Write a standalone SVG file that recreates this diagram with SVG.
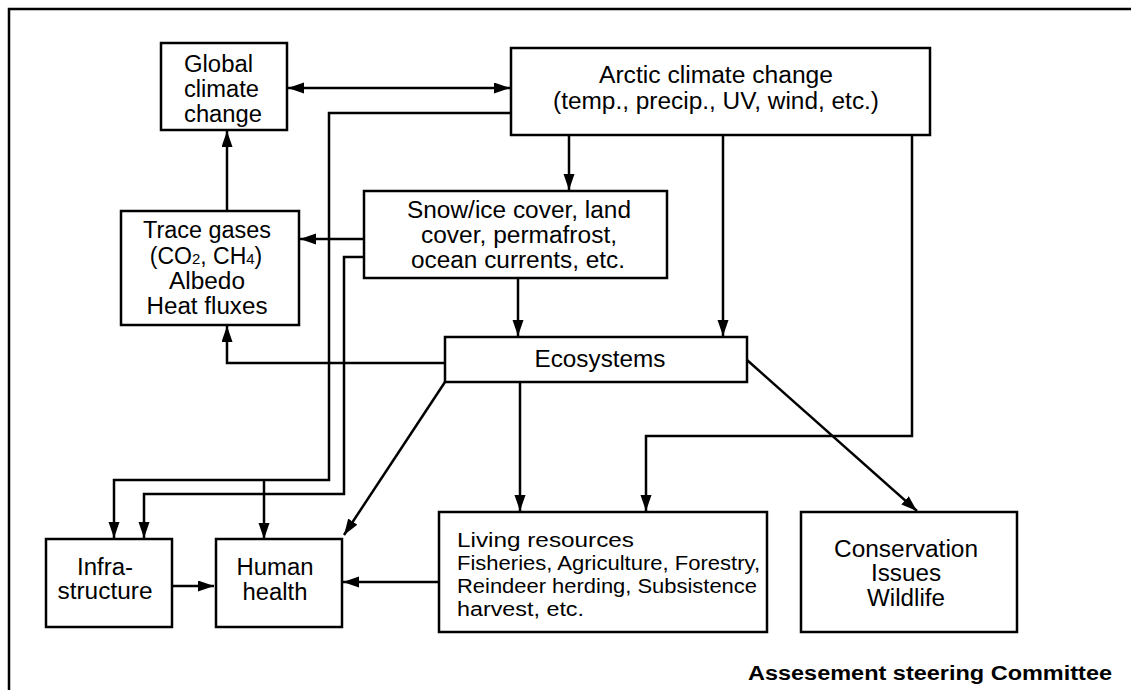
<svg xmlns="http://www.w3.org/2000/svg" width="1131" height="690" viewBox="0 0 1131 690">
<style>
.box{fill:#fff;stroke:#000;stroke-width:2.5}
.t{font-family:"Liberation Sans",Arial,sans-serif;font-size:23px;fill:#000}
.s{font-size:20px}
.c{text-anchor:middle}
.ln{fill:none;stroke:#000;stroke-width:2.5}
.b{font-family:"Liberation Sans",Arial,sans-serif;font-size:20px;font-weight:bold;fill:#000}
</style>
<defs>
<marker id="ah" markerUnits="userSpaceOnUse" markerWidth="17" markerHeight="12" refX="16" refY="5.5" orient="auto-start-reverse">
<path d="M0,0 L16,5.5 L0,11 z" fill="#000"/>
</marker>
</defs>
<rect width="1131" height="690" fill="#fff"/>
<path d="M9,690 V9 H1131" fill="none" stroke="#000" stroke-width="2.5"/>

<g id="connectors">
<path class="ln" d="M288,88 H510" marker-start="url(#ah)" marker-end="url(#ah)"/>
<path class="ln" d="M511,113 H329 V480 H114 V538" marker-end="url(#ah)"/>
<path class="ln" d="M264,480 V539" marker-end="url(#ah)"/>
<path class="ln" d="M364,257 H344 V494 H144 V538" marker-end="url(#ah)"/>
<path class="ln" d="M364,239 H300" marker-end="url(#ah)"/>
<path class="ln" d="M227,211 V131" marker-end="url(#ah)"/>
<path class="ln" d="M569,135 V190" marker-end="url(#ah)"/>
<path class="ln" d="M723,135 V336" marker-end="url(#ah)"/>
<path class="ln" d="M912,135 V436 H646 V511" marker-end="url(#ah)"/>
<path class="ln" d="M518,278 V336" marker-end="url(#ah)"/>
<path class="ln" d="M445,363 H227 V326" marker-end="url(#ah)"/>
<path class="ln" d="M445,382 L344,535" marker-end="url(#ah)"/>
<path class="ln" d="M520,382 V511" marker-end="url(#ah)"/>
<path class="ln" d="M747,360 L917,511" marker-end="url(#ah)"/>
<path class="ln" d="M172,586 H214" marker-end="url(#ah)"/>
<path class="ln" d="M439,582 H343" marker-end="url(#ah)"/>
</g>

<g id="global">
<rect class="box" x="161" y="43" width="126" height="87"/>
<text class="t" x="184" y="72" textLength="69" lengthAdjust="spacingAndGlyphs">Global</text>
<text class="t" x="184" y="97" textLength="75" lengthAdjust="spacingAndGlyphs">climate</text>
<text class="t" x="184" y="122" textLength="78" lengthAdjust="spacingAndGlyphs">change</text>
</g>

<g id="arctic">
<rect class="box" x="511" y="48" width="419" height="87"/>
<text class="t c" x="716" y="83" textLength="234" lengthAdjust="spacingAndGlyphs">Arctic climate change</text>
<text class="t c" x="716" y="109" textLength="326" lengthAdjust="spacingAndGlyphs">(temp., precip., UV, wind, etc.)</text>
</g>

<g id="snow">
<rect class="box" x="364" y="191" width="303" height="87"/>
<text class="t c" x="519" y="218" textLength="224" lengthAdjust="spacingAndGlyphs">Snow/ice cover, land</text>
<text class="t c" x="519" y="243" textLength="196" lengthAdjust="spacingAndGlyphs">cover, permafrost,</text>
<text class="t c" x="518" y="268" textLength="214" lengthAdjust="spacingAndGlyphs">ocean currents, etc.</text>
</g>

<g id="trace">
<rect class="box" x="121" y="211" width="178" height="114"/>
<text class="t c" x="207" y="238" textLength="128" lengthAdjust="spacingAndGlyphs">Trace gases</text>
<text class="t c" x="206" y="264">(CO<tspan font-size="15">2</tspan>, CH<tspan font-size="15">4</tspan>)</text>
<text class="t c" x="207" y="289" textLength="76" lengthAdjust="spacingAndGlyphs">Albedo</text>
<text class="t c" x="207" y="314" textLength="121" lengthAdjust="spacingAndGlyphs">Heat fluxes</text>
</g>

<g id="ecosystems">
<rect class="box" x="445" y="337" width="302" height="45"/>
<text class="t c" x="600" y="367" textLength="131" lengthAdjust="spacingAndGlyphs">Ecosystems</text>
</g>

<g id="infrastructure">
<rect class="box" x="46" y="539" width="126" height="88"/>
<text class="t c" x="105" y="575" textLength="56" lengthAdjust="spacingAndGlyphs">Infra-</text>
<text class="t c" x="105" y="599" textLength="95" lengthAdjust="spacingAndGlyphs">structure</text>
</g>

<g id="human">
<rect class="box" x="216" y="539" width="126" height="88"/>
<text class="t c" x="275" y="575" textLength="77" lengthAdjust="spacingAndGlyphs">Human</text>
<text class="t c" x="275" y="600" textLength="65" lengthAdjust="spacingAndGlyphs">health</text>
</g>

<g id="living">
<rect class="box" x="439" y="512" width="328" height="120"/>
<text class="t s" x="457" y="547" textLength="177" lengthAdjust="spacingAndGlyphs">Living resources</text>
<text class="t s" x="457" y="570" textLength="303" lengthAdjust="spacingAndGlyphs">Fisheries, Agriculture, Forestry,</text>
<text class="t s" x="457" y="593" textLength="300" lengthAdjust="spacingAndGlyphs">Reindeer herding, Subsistence</text>
<text class="t s" x="457" y="616" textLength="127" lengthAdjust="spacingAndGlyphs">harvest, etc.</text>
</g>

<g id="conservation">
<rect class="box" x="801" y="512" width="216" height="120"/>
<text class="t c" x="906" y="557" textLength="144" lengthAdjust="spacingAndGlyphs">Conservation</text>
<text class="t c" x="906" y="581" textLength="70" lengthAdjust="spacingAndGlyphs">Issues</text>
<text class="t c" x="906" y="606" textLength="78" lengthAdjust="spacingAndGlyphs">Wildlife</text>
</g>

<g id="footer">
<text class="b" x="748" y="680" textLength="364" lengthAdjust="spacingAndGlyphs">Assesement steering Committee</text>
</g>
</svg>
